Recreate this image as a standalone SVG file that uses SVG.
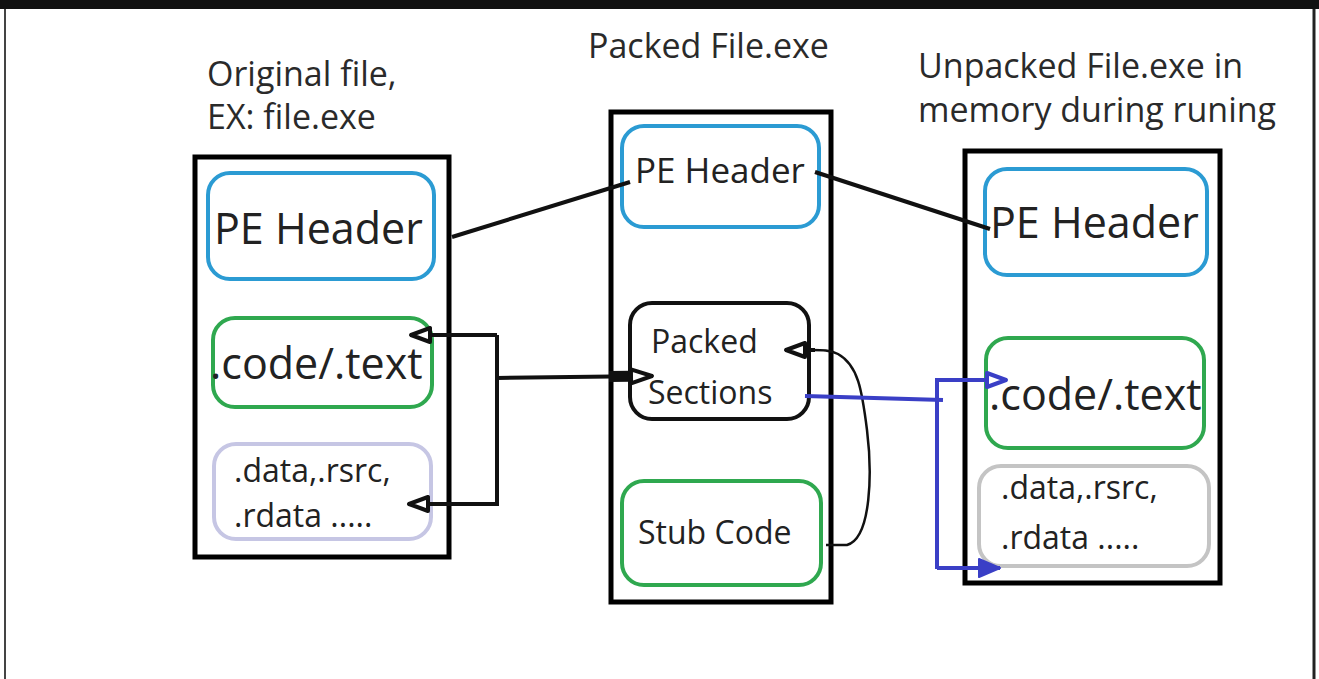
<svg xmlns="http://www.w3.org/2000/svg" width="1319" height="679" viewBox="0 0 1319 679">
<defs>
<style>
.frame{fill:none;stroke:#000;stroke-width:5}
.blue{fill:#fff;stroke:#2b9bd3;stroke-width:4}
.green{fill:#fff;stroke:#2fa84f;stroke-width:4}
.lav{fill:#fff;stroke:#c6c6e4;stroke-width:4}
.gray{fill:#fff;stroke:#c4c4c4;stroke-width:4}
.blk{fill:#fff;stroke:#111;stroke-width:4}
text{font-family:"Open Sans","Noto Sans",sans-serif;fill:#222}
.title{font-size:34px;fill:#2a2a2a}
.big{font-size:43px}
.mid{font-size:35px}
.sm{font-size:32px}
.conn{fill:none;stroke:#111;stroke-width:4}
.thin{fill:none;stroke:#111;stroke-width:2.5}
.bl{fill:none;stroke:#3a3fc6;stroke-width:4}
</style>
<marker id="openBlk" markerUnits="userSpaceOnUse" viewBox="0 0 26 20" markerWidth="26" markerHeight="20" refX="24" refY="10" orient="auto">
<path d="M4,3 L23,10 L4,17 Z" fill="#fff" stroke="#111" stroke-width="4" stroke-linejoin="round"/>
</marker>
<marker id="openBlkSq" markerUnits="userSpaceOnUse" viewBox="0 0 46 20" markerWidth="46" markerHeight="20" refX="44" refY="10" orient="auto">
<rect x="0" y="4.5" width="22" height="11" fill="#111"/>
<path d="M22,3 L43,10 L22,17 Z" fill="#fff" stroke="#111" stroke-width="4" stroke-linejoin="round"/>
</marker>
<marker id="openBlu" markerUnits="userSpaceOnUse" viewBox="0 0 26 20" markerWidth="26" markerHeight="20" refX="24" refY="10" orient="auto">
<path d="M4,3 L23,10 L4,17 Z" fill="#fff" stroke="#3a3fc6" stroke-width="4" stroke-linejoin="round"/>
</marker>
<marker id="fillBlu" markerUnits="userSpaceOnUse" viewBox="0 0 26 22" markerWidth="26" markerHeight="22" refX="24" refY="11" orient="auto">
<path d="M3,2 L24,11 L3,20 Z" fill="#3a3fc6" stroke="#3a3fc6" stroke-width="2" stroke-linejoin="round"/>
</marker>
</defs>
<rect x="0" y="0" width="1319" height="679" fill="#fff"/>
<rect x="0" y="0" width="1319" height="9" fill="#111"/>
<line x1="5" y1="9" x2="5" y2="679" stroke="#444" stroke-width="2"/>
<line x1="1314" y1="9" x2="1314" y2="679" stroke="#222" stroke-width="3"/>

<g id="title-original">
<text class="title" x="207" y="86">Original file,</text>
<text class="title" x="207" y="129">EX: file.exe</text>
</g>
<g id="title-packed">
<text class="title" x="588" y="58">Packed File.exe</text>
</g>
<g id="title-unpacked">
<text class="title" x="918" y="78">Unpacked File.exe in</text>
<text class="title" x="918" y="122">memory during runing</text>
</g>

<g id="original-file">
<rect class="frame" x="195" y="157" width="254" height="400"/>
</g>
<g id="orig-pe-header">
<rect class="blue" x="208" y="173" width="226" height="106" rx="22"/>
<text class="big" x="214" y="244">PE Header</text>
</g>
<g id="orig-code">
<rect class="green" x="213" y="318" width="219" height="89" rx="22"/>
<text class="big" x="210" y="379">.code/.text</text>
</g>
<g id="orig-data">
<rect class="lav" x="214" y="444" width="217" height="95" rx="22"/>
<text class="sm" x="234" y="482">.data,.rsrc,</text>
<text class="sm" x="234" y="527">.rdata .....</text>
</g>

<g id="packed-file">
<rect class="frame" x="611" y="112" width="220" height="490"/>
</g>
<g id="packed-pe-header">
<rect class="blue" x="622" y="126" width="197" height="101" rx="22"/>
<text class="mid" x="635" y="183">PE Header</text>
</g>
<g id="packed-sections">
<rect class="blk" x="630" y="303" width="179" height="116" rx="22"/>
<text class="sm" x="651" y="353">Packed</text>
<text class="sm" x="648" y="404">Sections</text>
</g>
<g id="stub-code">
<rect class="green" x="622" y="481" width="199" height="104" rx="22"/>
<text class="sm" x="638" y="544">Stub Code</text>
</g>

<g id="unpacked-file">
<rect class="frame" x="965" y="151" width="255" height="432"/>
</g>
<g id="unp-pe-header">
<rect class="blue" x="985" y="169" width="222" height="106" rx="22"/>
<text class="big" x="990" y="238">PE Header</text>
</g>
<g id="unp-code">
<rect class="green" x="986" y="338" width="218" height="110" rx="22"/>
<text class="big" x="989" y="410">.code/.text</text>
</g>
<g id="unp-data">
<rect class="gray" x="979" y="466" width="230" height="100" rx="22"/>
<text class="sm" x="1001" y="499">.data,.rsrc,</text>
<text class="sm" x="1001" y="549">.rdata .....</text>
</g>

<g id="connectors">
<path class="conn" d="M452,237 L630,182"/>
<path class="conn" d="M815,172 L990,229"/>
<path class="conn" d="M497,335 L410,335" marker-end="url(#openBlk)"/>
<path class="conn" d="M497,335 L497,504 L408,504" marker-end="url(#openBlk)"/>
<path class="conn" d="M497,378 L653,376" marker-end="url(#openBlkSq)"/>
<path class="thin" d="M826,545 L847,545 C872,538 872,470 867,430 C862,390 858,365 838,354 C830,350 822,350 812,350"/>
<path class="conn" d="M815,350 L785,350" marker-end="url(#openBlk)"/>
<path class="bl" d="M805,396 L943,400"/>
<path class="bl" d="M937,569 L937,380 L1007,380" marker-end="url(#openBlu)"/>
<path class="bl" d="M937,568 L1000,568" marker-end="url(#fillBlu)"/>
</g>
</svg>
